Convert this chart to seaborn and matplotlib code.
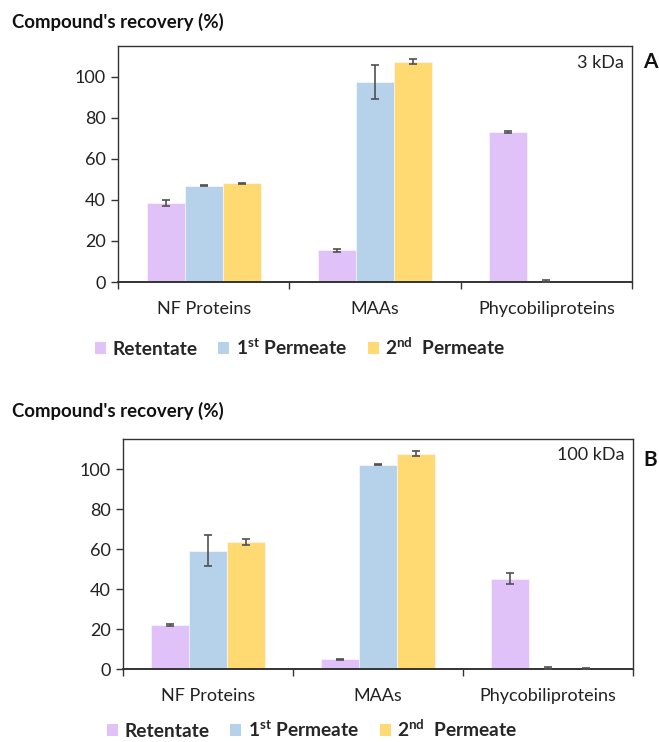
import numpy as np
import pandas as pd
import matplotlib
matplotlib.use('Agg')
import matplotlib.pyplot as plt
import seaborn as sns
from matplotlib.patches import Patch

# Data
categories = ["NF Proteins", "MAAs", "Phycobiliproteins"]
fractions = ["Retentate", "1st Permeate", "2nd Permeate"]
legend_labels = [r"Retentate", r"1$^{\mathbf{st}}$ Permeate", r"2$^{\mathbf{nd}}$  Permeate"]
colors = ["#E1C2F8", "#B5D2EA", "#FFDA73"]

# panel A, 3 kDa (rows = fraction, cols = category)
recovery_3k = [[38.4, 15.4, 73.3],
               [46.9, 97.5, 0.5],
               [48.0, 107.4, 0.0]]
error_3k = [[1.4, 0.6, 0.5],
            [0.3, 8.2, 0.4],
            [0.2, 1.1, 0.0]]

# panel B, 100 kDa
recovery_100k = [[21.8, 4.8, 45.2],
                 [59.2, 102.2, 0.6],
                 [63.5, 107.7, 0.2]]
error_100k = [[0.5, 0.2, 2.8],
              [7.7, 0.2, 0.5],
              [1.3, 1.2, 0.1]]

sns.set_theme(style="white")
plt.rcParams['font.family'] = ['Lato', 'DejaVu Sans']
plt.rcParams['mathtext.fontset'] = 'custom'
plt.rcParams['mathtext.rm'] = 'Lato'
plt.rcParams['mathtext.bf'] = 'Lato:bold'

fig = plt.figure(figsize=(6.59, 7.42), dpi=100)


def draw_panel(rect, values, errors, size_label, letter, title_y, legend_xy):
    ax = fig.add_axes(rect)
    df = pd.DataFrame([
        {"Compound": c, "Fraction": f, "Recovery": values[i][j], "Err": errors[i][j]}
        for i, f in enumerate(fractions) for j, c in enumerate(categories)
    ])
    sns.barplot(data=df, x="Compound", y="Recovery", hue="Fraction", order=categories,
                hue_order=fractions, palette=colors, saturation=1, width=0.665, errorbar=None,
                edgecolor="#FAF5FF", linewidth=0.5, legend=False, ax=ax)

    # error bars at bar centres (copy the list, errorbar() appends containers)
    bar_groups = list(ax.containers)[:len(fractions)]
    for i, cont in enumerate(bar_groups):
        for j, bar in enumerate(cont):
            if values[i][j] == 0 and errors[i][j] == 0:
                continue
            xc = bar.get_x() + bar.get_width() / 2
            ax.errorbar(xc, values[i][j], yerr=errors[i][j], fmt='none',
                        ecolor="#505050", elinewidth=1.2, capsize=3, capthick=1.2, zorder=5)

    ax.set_xlim(-0.5, 2.5)
    ax.set_ylim(0, 115)
    ax.set_yticks(np.arange(0, 101, 20))
    ax.set_xlabel("")
    ax.set_ylabel("")
    ax.set_xticks([0, 1, 2])
    ax.set_xticks([-0.5, 0.5, 1.5, 2.5], minor=True)
    ax.tick_params(axis='x', which='major', length=0, pad=14, labelsize=13, labelcolor="#222222")
    ax.tick_params(axis='x', which='minor', length=5, width=1, direction='out', color="#333333", bottom=True)
    ax.tick_params(axis='y', which='major', length=5, width=1, direction='out', left=True,
                   labelsize=13, color="#333333", labelcolor="#222222", pad=4)
    for side in ["left", "right", "top"]:
        ax.spines[side].set_color("#333333")
        ax.spines[side].set_linewidth(1.0)
    ax.spines["bottom"].set_color("#333333")
    ax.spines["bottom"].set_linewidth(1.4)

    ax.text(0.984, 0.93, size_label, transform=ax.transAxes, ha='right', va='center',
            fontsize=13, color="#222222")
    fig.text(650 / 659, 1 - title_y[1] / 742, letter, ha='center', va='center',
             fontsize=15, fontweight='bold', color="#111111")
    fig.text(12 / 659, 1 - title_y[0] / 742, "Compound's recovery (%)", ha='left', va='center',
             fontsize=13.4, fontweight='bold', color="#111111")

    handles = [Patch(facecolor=c, edgecolor='none') for c in colors]
    fig.legend(handles, legend_labels, loc='center left',
               bbox_to_anchor=(legend_xy[0] / 659, 1 - legend_xy[1] / 742),
               ncol=3, frameon=False, handlelength=0.55, handleheight=0.55,
               handletextpad=0.35, columnspacing=1.1, borderaxespad=0, borderpad=0,
               prop={'weight': 'bold', 'size': 13.8})
    return ax


draw_panel([118 / 659, 1 - 282 / 742, 514 / 659, 236 / 742], recovery_3k, error_3k,
           "3 kDa", "A", (22, 62), (95, 347))
draw_panel([123 / 659, 1 - 669 / 742, 510 / 659, 230 / 742], recovery_100k, error_100k,
           "100 kDa", "B", (411, 460), (107, 729))

fig.savefig("out.png", dpi=100)
